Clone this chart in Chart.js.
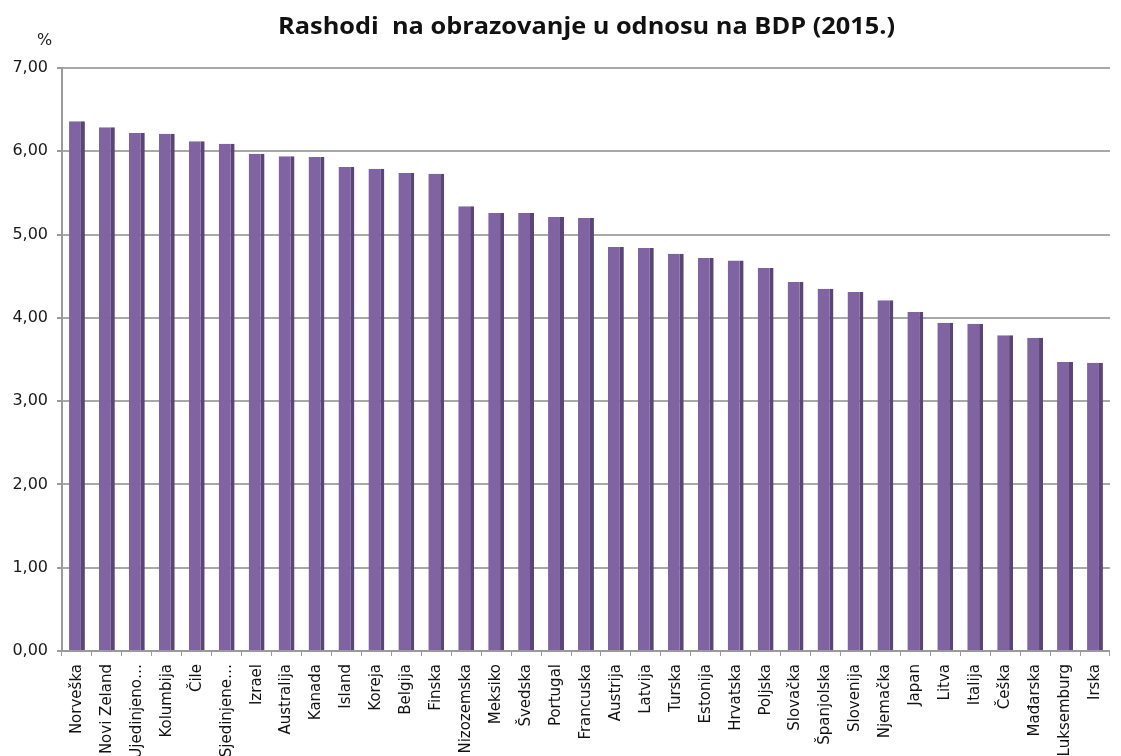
<!DOCTYPE html>
<html>
<head>
<meta charset="utf-8">
<script src="https://cdn.jsdelivr.net/npm/chart.js@4.4.1/dist/chart.umd.min.js"></script>
<style>
  html, body { margin: 0; padding: 0; background: #ffffff; }
  #wrap { position: relative; width: 1121px; height: 756px; }
</style>
</head>
<body>
<div id="wrap"><canvas id="c"></canvas></div>
<script>
const titleText = 'Rashodi  na obrazovanje u odnosu na BDP (2015.)';
const unitLabel = '%';

const categories = [
  'Norveška', 'Novi Zeland', 'Ujedinjeno…', 'Kolumbija', 'Čile', 'Sjedinjene…',
  'Izrael', 'Australija', 'Kanada', 'Island', 'Koreja', 'Belgija', 'Finska',
  'Nizozemska', 'Meksiko', 'Švedska', 'Portugal', 'Francuska', 'Austrija',
  'Latvija', 'Turska', 'Estonija', 'Hrvatska', 'Poljska', 'Slovačka',
  'Španjolska', 'Slovenija', 'Njemačka', 'Japan', 'Litva', 'Italija',
  'Češka', 'Mađarska', 'Luksemburg', 'Irska'
];

const values = [
  6.36, 6.29, 6.22, 6.21, 6.12, 6.09,
  5.97, 5.94, 5.93, 5.81, 5.79, 5.74, 5.73,
  5.34, 5.26, 5.26, 5.21, 5.20, 4.85,
  4.84, 4.77, 4.72, 4.69, 4.60, 4.43,
  4.35, 4.31, 4.21, 4.07, 3.94, 3.93,
  3.79, 3.76, 3.47, 3.46
];

const yTickLabels = ['0,00', '1,00', '2,00', '3,00', '4,00', '5,00', '6,00', '7,00'];

const textPlugin = {
  id: 'textPlugin',
  afterDraw(chart) {
    const ctx = chart.ctx;
    ctx.save();
    ctx.fillStyle = '#111111';
    ctx.font = 'bold 23px "Open Sans"';
    ctx.textAlign = 'left';
    ctx.textBaseline = 'alphabetic';
    const w = ctx.measureText(titleText).width;
    const sx = 617 / w;
    ctx.translate(278, 34);
    ctx.scale(sx, 1);
    ctx.fillText(titleText, 0, 0);
    ctx.restore();
    ctx.save();
    ctx.font = '16px "DejaVu Sans"';
    ctx.textAlign = 'left';
    ctx.fillStyle = '#222222';
    ctx.fillText(unitLabel, 37, 45);
    ctx.restore();
  }
};

new Chart(document.getElementById('c'), {
  type: 'bar',
  data: {
    labels: categories,
    datasets: [{
      data: values,
      backgroundColor: '#8064A2',
      borderColor: '#5A4576',
      borderWidth: { top: 0, right: 4, bottom: 0, left: 0 },
      borderSkipped: 'start',
      barPercentage: 0.53,
      categoryPercentage: 1.0
    }]
  },
  options: {
    responsive: true,
    maintainAspectRatio: false,
    animation: false,
    layout: { padding: { top: 68, right: 1, left: 0, bottom: 0 } },
    plugins: {
      legend: { display: false },
      title: { display: false },
      tooltip: { enabled: false }
    },
    scales: {
      x: {
        offset: true,
        grid: {
          display: true,
          offset: true,
          drawOnChartArea: false,
          drawTicks: true,
          tickLength: 5,
          color: '#9a9a9a',
          lineWidth: 1
        },
        border: { display: true, color: '#9a9a9a', width: 2 },
        ticks: {
          autoSkip: false,
          maxRotation: 90,
          minRotation: 90,
          padding: 8,
          color: '#111111',
          font: { family: 'DejaVu Sans', size: 15 }
        },
        afterFit(scale) { scale.height = 105; }
      },
      y: {
        min: 0,
        max: 7,
        ticks: {
          stepSize: 1,
          padding: 9,
          color: '#1a1a1a',
          font: { family: 'DejaVu Sans', size: 16 },
          callback: (v) => yTickLabels[Math.round(v)]
        },
        grid: {
          color: '#a8a8a8',
          lineWidth: 2,
          drawTicks: true,
          tickLength: 5,
          tickColor: '#9a9a9a'
        },
        border: { display: true, color: '#9a9a9a', width: 2 },
        afterFit(scale) { scale.width = 62; }
      }
    }
  },
  plugins: [textPlugin]
});
</script>
</body>
</html>
